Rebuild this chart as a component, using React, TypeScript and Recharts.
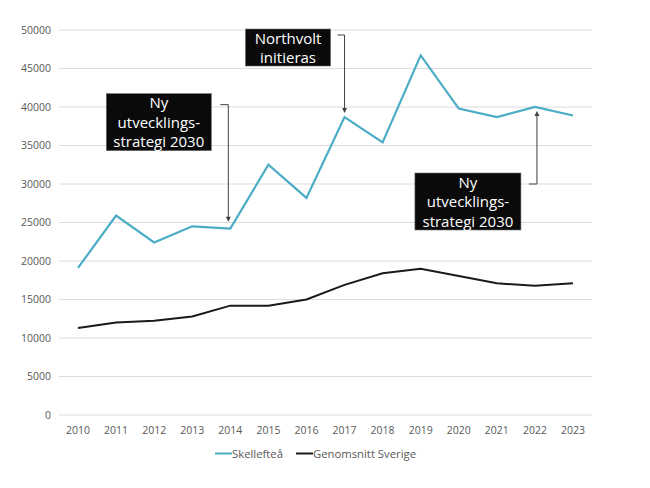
import React from 'react';
import { LineChart, Line, XAxis, YAxis, CartesianGrid, Legend, ReferenceDot } from 'recharts';

const years = ['2010', '2011', '2012', '2013', '2014', '2015', '2016', '2017', '2018', '2019', '2020', '2021', '2022', '2023'];
const skelleftea = [19100, 25900, 22400, 24500, 24200, 32500, 28200, 38700, 35400, 46700, 39800, 38700, 40000, 38900];
const sverige = [11300, 12000, 12250, 12800, 14200, 14200, 15000, 16900, 18400, 19000, 18050, 17100, 16800, 17100];
const yTicks = [0, 5000, 10000, 15000, 20000, 25000, 30000, 35000, 40000, 45000, 50000];
const seriesNames = ['Skellefteå', 'Genomsnitt Sverige'];

const annotationYears = ['2014', '2017', '2022'];
const annotationValues = [24200, 38700, 40000];
const annotationTexts = [
  ['Ny', 'utvecklings-', 'strategi 2030'],
  ['Northvolt', 'initieras'],
  ['Ny', 'utvecklings-', 'strategi 2030'],
];

const data = years.map((y, i) => ({ year: y, skelleftea: skelleftea[i], sverige: sverige[i] }));

const BLUE = '#4bacc6';
const FONT = '"Open Sans", sans-serif';

// layout of each annotation relative to its anchor point (px)
const layouts = [
  { bx: -124, by: -135, bw: 105, arrowX: -2, elbowY: -124, elbowX: -10, tipY: -7, dir: 'down' },
  { bx: -99, by: -88, bw: 85, arrowX: 0, elbowY: -82, elbowX: -7, tipY: -4, dir: 'down' },
  { bx: -120, by: 66, bw: 106, arrowX: 2, elbowY: 77, elbowX: -6, tipY: 4, dir: 'up' },
];

function makeShape(idx: number) {
  return (props: any) => {
    const { cx, cy } = props;
    if (cx == null || cy == null) return <g />;
    const L = layouts[idx];
    const lines = annotationTexts[idx];
    const bh = lines.length === 3 ? 57 : 37;
    const bx = cx + L.bx;
    const by = cy + L.by;
    const ax = cx + L.arrowX;
    const ey = cy + L.elbowY;
    const ty = cy + L.tipY;
    const arrow =
      L.dir === 'down'
        ? `M${ax - 2.5},${ty - 5} L${ax + 2.5},${ty - 5} L${ax},${ty} Z`
        : `M${ax - 2.5},${ty + 5} L${ax + 2.5},${ty + 5} L${ax},${ty} Z`;
    const lineEnd = L.dir === 'down' ? ty - 4 : ty + 4;
    return (
      <g>
        <rect x={bx} y={by} width={L.bw} height={bh} fill="#0a0a0a" stroke="#6b6b6b" strokeWidth={0.6} />
        {lines.map((t, i) => (
          <text
            key={i}
            x={bx + L.bw / 2}
            y={by + 14.5 + i * 19.5}
            textAnchor="middle"
            fill="#ffffff"
            fontFamily={FONT}
            fontSize={15}
          >
            {t}
          </text>
        ))}
        <path d={`M${cx + L.elbowX},${ey} L${ax},${ey} L${ax},${lineEnd}`} fill="none" stroke="#404040" strokeWidth={1} />
        <path d={arrow} fill="#404040" />
      </g>
    );
  };
}

const renderLegend = (props: any) => {
  const payload = [...(props.payload || [])].sort(
    (a: any, b: any) => seriesNames.indexOf(a.value) - seriesNames.indexOf(b.value)
  );
  return (
    <div style={{ display: 'flex', marginLeft: 207, marginTop: 2, fontFamily: FONT, fontSize: 11.3, color: '#595959', lineHeight: '13px' }}>
      {payload.map((p: any, i: number) => (
        <div key={i} style={{ display: 'flex', alignItems: 'center', marginRight: 13 }}>
          <svg width={17} height={13}>
            <line x1={0} y1={6.5} x2={17} y2={6.5} stroke={p.color} strokeWidth={2} />
          </svg>
          <span>{p.value}</span>
        </div>
      ))}
    </div>
  );
};

export default function App() {
  return (
    <LineChart width={642} height={480} data={data} margin={{ top: 22, right: 58, left: 0, bottom: 0 }}>
      <CartesianGrid vertical={false} stroke="#dcdcdc" />
      <XAxis
        dataKey="year"
        axisLine={false}
        tickLine={false}
        height={30}
        tickMargin={6}
        padding={{ left: 19, right: 19 }}
        tick={{ fill: '#595959', fontSize: 10.5, fontFamily: FONT }}
        interval={0}
      />
      <YAxis
        domain={[0, 50000]}
        ticks={yTicks}
        width={51}
        axisLine={false}
        tickLine={false}
        tick={{ fill: '#595959', fontSize: 10.5, fontFamily: FONT }}
        interval={0}
      />
      <Legend verticalAlign="bottom" align="left" height={43} content={renderLegend} />
      <Line
        type="linear"
        dataKey="skelleftea"
        name="Skellefteå"
        stroke={BLUE}
        strokeWidth={2.2}
        dot={false}
        isAnimationActive={false}
      />
      <Line
        type="linear"
        dataKey="sverige"
        name="Genomsnitt Sverige"
        stroke="#1a1a1a"
        strokeWidth={2}
        dot={false}
        isAnimationActive={false}
      />
      {annotationYears.map((yr, i) => (
        <ReferenceDot key={yr} x={yr} y={annotationValues[i]} r={1} shape={makeShape(i)} />
      ))}
    </LineChart>
  );
}
